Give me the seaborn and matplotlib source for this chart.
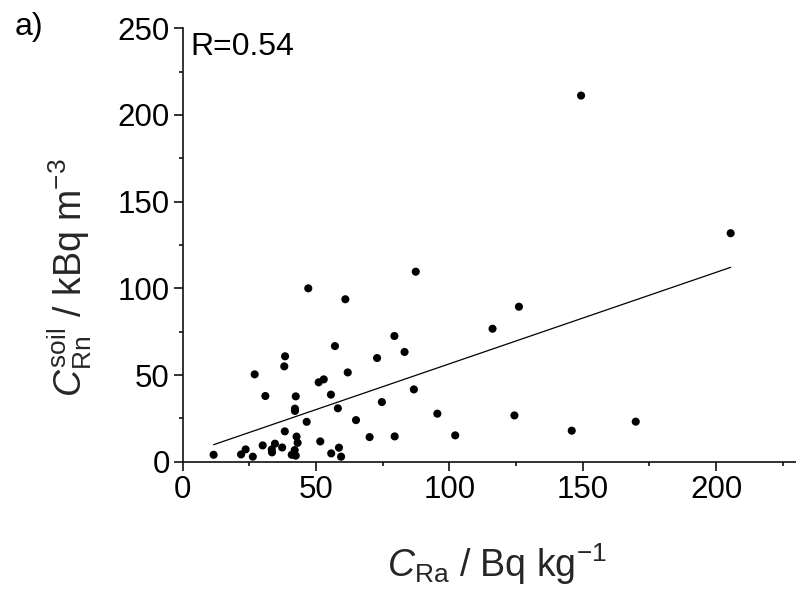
"""Soil radon vs. radium activity concentration scatter with linear fit (panel a)."""
import matplotlib
matplotlib.use("Agg")
import matplotlib.pyplot as plt
import numpy as np
import pandas as pd
import seaborn as sns
from matplotlib.ticker import MultipleLocator

# ── Data ──────────────────────────────────────────────────────────────
c_ra = [
    11.6, 21.9, 23.6, 26.3, 27.0, 31.0, 30.0, 33.4, 33.5, 34.6,
    37.3, 38.4, 38.1, 38.3, 42.4, 42.1, 42.1, 42.7, 43.1, 42.0,
    40.9, 42.4, 46.5, 47.1, 51.6, 51.0, 52.9, 55.7, 55.6, 58.2,
    57.1, 58.6, 59.4, 61.0, 61.9, 65.0, 70.1, 72.9, 74.7, 79.4,
    79.5, 83.2, 86.7, 87.4, 95.5, 102.2, 116.2, 124.4, 126.1, 145.9,
    149.4, 169.9, 205.5,
]
c_rn_soil = [
    4.0, 4.2, 7.1, 2.9, 50.4, 37.9, 9.4, 7.1, 5.4, 10.4,
    8.2, 60.8, 55.0, 17.5, 37.7, 30.6, 29.3, 14.5, 10.9, 6.7,
    4.0, 3.5, 23.0, 100.0, 11.7, 45.8, 47.5, 4.8, 38.7, 30.8,
    66.7, 8.1, 2.9, 93.7, 51.5, 24.0, 14.2, 59.8, 34.4, 72.5,
    14.6, 63.3, 41.7, 109.6, 27.7, 15.2, 76.7, 26.7, 89.4, 17.9,
    211.2, 23.1, 131.8,
]
r_label = "R=0.54"

df = pd.DataFrame({"c_ra": c_ra, "c_rn": c_rn_soil})

# ── Style ─────────────────────────────────────────────────────────────
sns.set_style("ticks")
plt.rcParams.update({
    "font.family": ["Liberation Sans", "DejaVu Sans"],
    "mathtext.fontset": "custom",
    "mathtext.rm": "Liberation Sans",
    "mathtext.it": "Liberation Sans:italic",
    "mathtext.bf": "Liberation Sans:bold",
    "axes.linewidth": 1.2,
    "axes.edgecolor": "#111111",
    "text.color": "black",
    "xtick.color": "#111111",
    "ytick.color": "#111111",
    "xtick.direction": "out",
    "ytick.direction": "out",
})

fig = plt.figure(figsize=(7.96, 5.93), dpi=100)
ax = fig.add_axes([0.2295, 0.2214, 0.7705, 0.7309])

sns.scatterplot(data=df, x="c_ra", y="c_rn", ax=ax, color="black",
                s=34, edgecolor="none", clip_on=False, zorder=3)
sns.regplot(data=df, x="c_ra", y="c_rn", ax=ax, scatter=False, ci=None,
            truncate=True, line_kws={"color": "black", "lw": 0.9})

ax.set_xlim(0, 230)
ax.set_ylim(0, 250)
ax.xaxis.set_major_locator(MultipleLocator(50))
ax.xaxis.set_minor_locator(MultipleLocator(25))
ax.yaxis.set_major_locator(MultipleLocator(50))
ax.yaxis.set_minor_locator(MultipleLocator(25))
ax.tick_params(which="major", length=6.3, width=1.2, labelsize=22.5,
               pad=3, labelcolor="black")
ax.tick_params(which="minor", length=3.2, width=1.2)
sns.despine(ax=ax)

ax.set_xlabel(r"$C_{\mathrm{Ra}}$ / Bq kg$^{\mathrm{-1}}$", fontsize=27)
ax.set_ylabel(r"$C^{\mathrm{soil}}_{\mathrm{Rn}}$ / kBq m$^{\mathrm{-3}}$", fontsize=27)
ax.xaxis.set_label_coords(0.512, -0.183)
ax.yaxis.set_label_coords(-0.145, 0.425)

ax.text(0.013, 0.992, r_label, transform=ax.transAxes, ha="left", va="top",
        fontsize=23)
fig.text(0.019, 0.98, "a)", ha="left", va="top", fontsize=23)

fig.savefig("out.png", dpi=100)
